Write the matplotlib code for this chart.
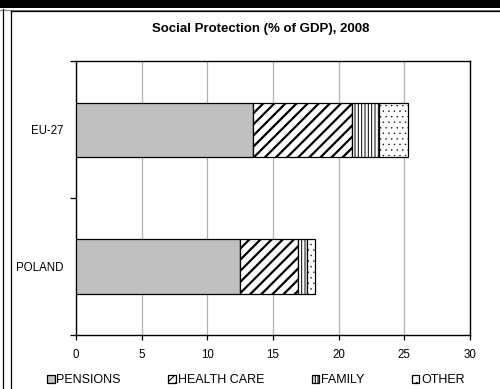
import matplotlib
matplotlib.use("Agg")
import matplotlib.pyplot as plt
from matplotlib.patches import Patch, Rectangle
from matplotlib.lines import Line2D

plt.rcParams['font.family'] = ['Liberation Sans', 'DejaVu Sans']

# data (% of GDP)
countries = ["POLAND", "EU-27"]
series = ["PENSIONS", "HEALTH CARE", "FAMILY", "OTHER"]
pensions = [12.5, 13.5]
health_care = [4.4, 7.5]
family = [0.7, 2.1]
other = [0.6, 2.2]
xticks = [0, 5, 10, 15, 20, 25, 30]

values = [pensions, health_care, family, other]
colors = ["#c0c0c0", "white", "white", "white"]
hatches = [None, "///", "|||||", "..."]
hatch_lw = [1.0, 1.6, 0.7, 0.25]

fig = plt.figure(figsize=(5.0, 3.89), dpi=100)
ax = fig.add_axes([0.152, 0.138, 0.788, 0.704])

ypos = list(range(len(countries)))
left = [0.0] * len(countries)
for vals, col, hat, hl in zip(values, colors, hatches, hatch_lw):
    plt.rcParams['hatch.linewidth'] = hl
    ax.barh(ypos, vals, left=left, height=0.4, color=col, hatch=hat,
            edgecolor="black", linewidth=0.9, zorder=3)
    left = [l + v for l, v in zip(left, vals)]

ax.set_xlim(0, 30)
ax.set_ylim(-0.5, 1.5)
ax.set_xticks(xticks)
ax.set_xticklabels([str(t) for t in xticks], fontsize=8.3)
ax.set_yticks([-0.5, 0.5, 1.5])
ax.set_yticklabels([])
ax.set_yticks(ypos, minor=True)
ax.set_yticklabels(countries, minor=True, fontsize=8.3)
ax.tick_params(axis='y', which='minor', length=0, pad=9)
ax.tick_params(axis='y', which='major', length=4, width=0.9, direction='out')
ax.tick_params(axis='x', length=3.5, width=0.9, direction='out', pad=6)
ax.xaxis.grid(True, color="#b0b0b0", linewidth=0.9, zorder=0)
ax.set_axisbelow(True)
for s in ax.spines.values():
    s.set_linewidth(1.0)
    s.set_color("black")

fig.text(0.522, 1 - 29 / 389, "Social Protection (% of GDP), 2008",
         ha="center", va="center", fontsize=9.5, fontweight="bold")

# legend swatches: coarse versions of the bar fills
legend_hatches = [None, "////", "||||||", ".."]
legend_lw = [1.0, 3.0, 0.8, 0.8]
handles = []
for name, col, hat, hl in zip(series, colors, legend_hatches, legend_lw):
    plt.rcParams['hatch.linewidth'] = hl
    handles.append(Patch(facecolor=col, edgecolor="black", hatch=hat,
                         linewidth=0.9, label=name))
fig.legend(handles=handles, loc="center", ncol=4,
           bbox_to_anchor=(0.512, 1 - 380 / 389), frameon=False,
           fontsize=9, handlelength=0.6, handleheight=0.6,
           handletextpad=0.15, columnspacing=3.8, borderpad=0)

# outer frame of the original document
fig.patches.append(Rectangle((0, 1 - 8 / 389), 1, 8 / 389, transform=fig.transFigure,
                             facecolor="black", edgecolor="none"))
fig.lines.append(Line2D([0, 1], [1 - 9.5 / 389] * 2, transform=fig.transFigure,
                        color="#808080", linewidth=0.8))
fig.lines.append(Line2D([3 / 500] * 2, [0, 1 - 9 / 389], transform=fig.transFigure,
                        color="black", linewidth=0.9))
fig.lines.append(Line2D([10.5 / 500] * 2, [0, 1 - 11 / 389], transform=fig.transFigure,
                        color="black", linewidth=0.9))
fig.lines.append(Line2D([10.5 / 500, 1], [1 - 11 / 389] * 2, transform=fig.transFigure,
                        color="black", linewidth=0.9))

fig.savefig("out.png", dpi=100)
